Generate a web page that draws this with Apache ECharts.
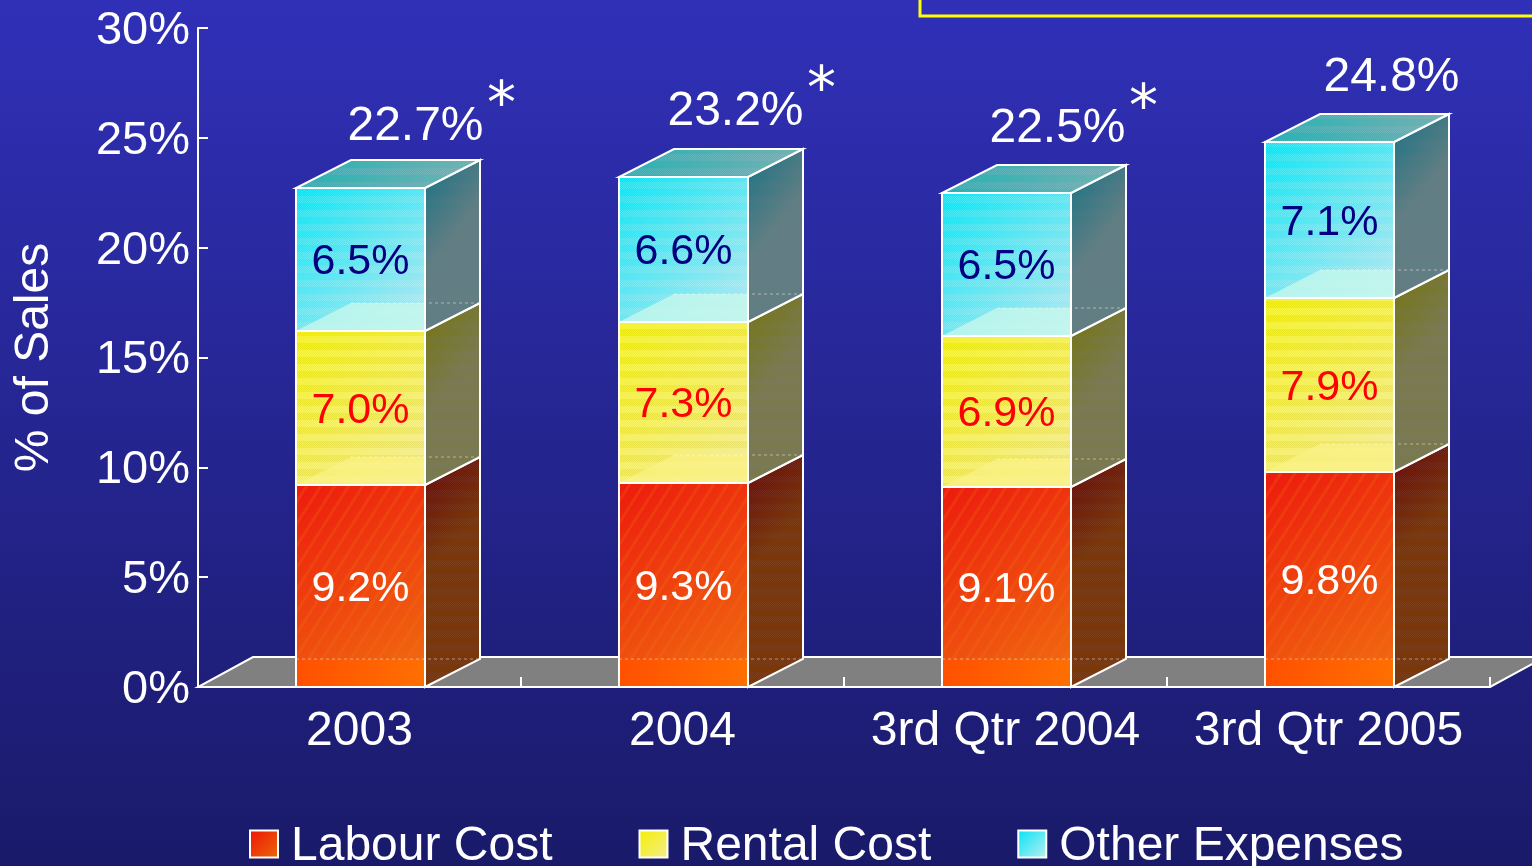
<!DOCTYPE html>
<html><head><meta charset="utf-8">
<style>html,body{margin:0;padding:0;background:#1a1a6b;overflow:hidden}#c{width:1532px;height:866px}</style>
<script src="https://cdn.jsdelivr.net/npm/echarts@6/dist/echarts.min.js"></script>
</head><body><div id="c"></div>
<script>
// ---- data ----
const categories = ['2003', '2004', '3rd Qtr 2004', '3rd Qtr 2005'];
const labourCost = [9.2, 9.3, 9.1, 9.8];
const rentalCost = [7.0, 7.3, 6.9, 7.9];
const otherExpenses = [6.5, 6.6, 6.5, 7.1];
const totals = [22.7, 23.2, 22.5, 24.8];
const totalStarred = [true, true, true, false];

// ---- layout / styles ----
const FONT = '"Liberation Sans", Arial, sans-serif';
const DX = 55, DY = 28, BAR_FRACTION = 0.4;
const totalNudge = [[1, 1], [-2, -3], [-3, -1], [8, -1]];
const grad = (a, b, y2 = 1) => ({type: 'linear', x: 0, y: 0, x2: 1, y2, colorStops: [{offset: 0, color: a}, {offset: 1, color: b}]});

function checker(color, soft) {
  const s = document.createElement('canvas');
  s.width = 2; s.height = 14;
  const g = s.getContext('2d');
  for (let y = 0; y < 14; y++) {
    g.fillStyle = (y < 7 || !soft) ? color : soft;
    g.fillRect((y % 2), y, 1, 1);
  }
  return {image: s, repeat: 'repeat'};
}
function stripes() {
  const s = document.createElement('canvas');
  s.width = 14; s.height = 22;
  const g = s.getContext('2d');
  g.strokeStyle = 'rgba(255,120,0,.22)';
  g.lineWidth = 3;
  [-14, 0, 14].forEach(o => { g.beginPath(); g.moveTo(o, 22); g.lineTo(o + 14, 0); g.stroke(); });
  for (let y = 0; y < 22; y++) for (let x = (y % 2); x < 14; x += 2) {
    g.fillStyle = 'rgba(120,120,120,.12)';
    g.fillRect(x, y, 1, 1);
  }
  return {image: s, repeat: 'repeat'};
}
const frontDither = checker('rgba(255,255,255,.22)', 'rgba(255,255,255,.08)');
const yellowDither = checker('rgba(255,255,255,.20)', 'rgba(130,130,90,.10)');
const sideDither = checker('rgba(130,130,170,.14)', 'rgba(130,130,170,.07)');
const topDither = checker('rgba(180,190,210,.28)', 'rgba(180,190,210,.06)');

const looks = {
  labour: {front: grad('#ff1000', '#ff6c00'), side: grad('#6a0606', '#7c3400', .25), bottom: grad('#ff5000', '#ff7000'), bottomOp: 1,
    legend: grad('#f01208', '#e86a08'), label: '#ffffff', tex: stripes(), sideTex: sideDither},
  rental: {front: grad('#f8f400', '#f6ec88'), side: grad('#767600', '#7a7a48', .25), bottom: '#fbf286', bottomOp: .75,
    legend: grad('#f4f000', '#f4ec90'), label: '#ff0000', tex: yellowDither, sideTex: sideDither},
  other: {front: grad('#00e8f8', '#b4e8f2'), side: grad('#0e7484', '#5f7f7f', .25), bottom: '#c6f8ec', bottomOp: .8,
    legend: grad('#00e4f4', '#c0eef0'), label: '#000080', tex: frontDither, sideTex: sideDither,
    top: grad('#1fb4b4', '#70b2b2', .1)}
};
const WHITE = '#ffffff';

function segmentRenderer(look) {
  return function (params, api) {
    const i = api.value(0), lo = api.value(1), hi = api.value(2), val = api.value(3);
    const band = api.size([1, 0])[0];
    const w = band * BAR_FRACTION;
    const cx = api.coord([i, 0])[0] + 1;
    const x0 = Math.round(cx - w / 2), x1 = Math.round(cx + w / 2);
    const yb = Math.round(api.coord([i, lo])[1]), yt = Math.round(api.coord([i, hi])[1]);
    const edge = {stroke: WHITE, lineWidth: 2, lineJoin: 'miter'};
    const kids = [];
    const sidePts = [[x1, yb], [x1 + DX, yb - DY], [x1 + DX, yt - DY], [x1, yt]];
    const frontPts = [[x0, yb], [x1, yb], [x1, yt], [x0, yt]];
    // side face
    kids.push({type: 'polygon', shape: {points: sidePts}, style: {fill: look.side}});
    kids.push({type: 'polygon', shape: {points: sidePts}, style: {fill: look.sideTex, ...edge}});
    // front face
    kids.push({type: 'polygon', shape: {points: frontPts}, style: {fill: look.front}});
    kids.push({type: 'polygon', shape: {points: frontPts}, style: {fill: look.tex}});
    // floor of the segment seen through the front face
    kids.push({type: 'polygon', shape: {points: lo === 0
        ? [[x0, yb], [x1, yb], [x1, yb - DY], [x0, yb - DY]]
        : [[x0, yb], [x1, yb], [x1, yb - DY], [x0 + DX, yb - DY]]},
      style: {fill: look.bottom, opacity: look.bottomOp}});
    kids.push({type: 'line', shape: {x1: lo === 0 ? x0 : x0 + DX, y1: yb - DY, x2: x1 + DX, y2: yb - DY},
      style: {stroke: 'rgba(255,255,255,.45)', lineWidth: 1, lineDash: [3, 3]}});
    // top face
    if (look.top) {
      const topPts = [[x0, yt], [x1, yt], [x1 + DX, yt - DY], [x0 + DX, yt - DY]];
      kids.push({type: 'polygon', shape: {points: topPts}, style: {fill: look.top}});
      kids.push({type: 'polygon', shape: {points: topPts}, style: {fill: topDither, ...edge}});
    }
    // front outline
    kids.push({type: 'rect', shape: {x: x0, y: yt, width: x1 - x0, height: yb - yt},
      style: {fill: 'none', ...edge}});
    // value label
    kids.push({type: 'text', x: (x0 + x1) / 2, y: (yb + yt) / 2 + 3,
      style: {text: val.toFixed(1) + '%', fill: look.label, font: '43px ' + FONT, textAlign: 'center', textVerticalAlign: 'middle'}});
    return {type: 'group', children: kids};
  };
}

function rows(values, below) {
  return values.map((v, i) => {
    const lo = below.reduce((s, arr) => s + arr[i], 0);
    return [i, +lo.toFixed(1), +(lo + v).toFixed(1), v];
  });
}

function segmentSeries(name, look, values, below) {
  return {
    name, type: 'custom', z: 3, clip: false,
    itemStyle: {color: look.legend},
    encode: {x: 0, y: [1, 2]},
    data: rows(values, below),
    renderItem: segmentRenderer(look)
  };
}

const chart = echarts.init(document.getElementById('c'), null, {renderer: 'canvas'});
chart.setOption({
  animation: false,
  backgroundColor: {type: 'linear', x: 0, y: 0, x2: 0, y2: 1,
    colorStops: [{offset: 0, color: '#3030b8'}, {offset: 1, color: '#1a1a6a'}]},
  textStyle: {fontFamily: FONT, color: WHITE},
  grid: {left: 198, right: 42, top: 28, bottom: 179, containLabel: false, outerBoundsMode: 'none'},
  legend: {
    left: 249, top: 823, padding: 0, itemWidth: 28, itemHeight: 27, itemGap: 86,
    icon: 'rect',
    itemStyle: {borderColor: WHITE, borderWidth: 2},
    formatter: '{a|{name}}',
    textStyle: {color: WHITE, fontSize: 48, fontFamily: FONT,
      rich: {a: {color: WHITE, fontSize: 48, fontFamily: FONT, padding: [6, 0, 0, 8]}}},
    data: ['Labour Cost', 'Rental Cost', 'Other Expenses']
  },
  xAxis: {
    type: 'category', data: categories, z: 2,
    axisLine: {lineStyle: {color: WHITE, width: 2}},
    axisTick: {show: true, inside: true, length: 10, lineStyle: {color: WHITE, width: 2}},
    axisLabel: {color: WHITE, fontSize: 48, fontFamily: FONT, margin: 21, interval: 0}
  },
  yAxis: {
    type: 'value', min: 0, max: 30, interval: 5, z: 2,
    name: '% of Sales', nameLocation: 'middle', nameGap: 139, nameRotate: 90,
    nameTextStyle: {color: WHITE, fontSize: 48, fontFamily: FONT},
    splitLine: {show: false},
    axisLine: {show: true, lineStyle: {color: WHITE, width: 2}},
    axisTick: {show: true, inside: true, length: 10, lineStyle: {color: WHITE, width: 2}},
    axisLabel: {color: WHITE, fontSize: 47, fontFamily: FONT, margin: 8, verticalAlign: 'top', lineHeight: 6, formatter: '{value}%'}
  },
  graphic: [{type: 'rect', silent: true, shape: {x: 920, y: -10, width: 700, height: 26},
    style: {fill: 'none', stroke: '#ffff00', lineWidth: 3}}],
  series: [
    {
      name: 'floor', type: 'custom', z: 1, clip: false, silent: true,
      data: [[0]],
      encode: {x: 0},
      renderItem(params) {
        const c = params.coordSys, b = c.y + c.height, r = c.x + c.width;
        return {type: 'polygon', shape: {points: [[c.x, b], [r, b], [r + DX, b - DY - 2], [c.x + DX, b - DY - 2]]},
          style: {fill: '#808080', stroke: WHITE, lineWidth: 2}};
      }
    },
    segmentSeries('Labour Cost', looks.labour, labourCost, []),
    segmentSeries('Rental Cost', looks.rental, rentalCost, [labourCost]),
    segmentSeries('Other Expenses', looks.other, otherExpenses, [labourCost, rentalCost]),
    {
      name: 'total', type: 'custom', z: 4, clip: false, silent: true,
      encode: {x: 0, y: 1},
      data: totals.map((t, i) => [i, t]),
      renderItem(params, api) {
        const i = api.value(0), t = api.value(1);
        const p = api.coord([i, t]);
        const n = totalNudge[i];
        const x = p[0] + 55 + n[0], y = p[1] - 63 + n[1];
        const kids = [{type: 'text', x, y,
          style: {text: t.toFixed(1) + '%', fill: WHITE, font: '48px ' + FONT, textAlign: 'center', textVerticalAlign: 'middle'}}];
        if (totalStarred[i]) {
          kids.push({type: 'text', x: x + 86, y: y - 18,
            style: {text: '*', fill: WHITE, font: '58px "DejaVu Sans"', textAlign: 'center', textVerticalAlign: 'middle'}});
        }
        return {type: 'group', children: kids};
      }
    }
  ]
});
</script></body></html>
